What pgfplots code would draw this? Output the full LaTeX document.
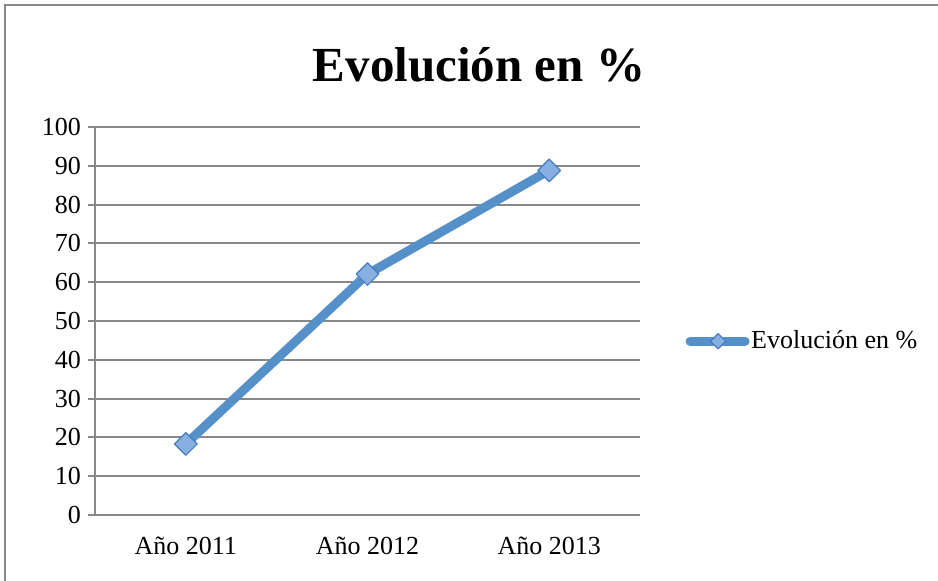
\documentclass[border=0pt]{standalone}
\usepackage{fontspec}
\setmainfont{Liberation Serif}
\usepackage{pgfplots}
\pgfplotsset{compat=1.18}
\definecolor{lineblue}{RGB}{85,145,200}
\definecolor{markfill}{RGB}{135,175,225}
\definecolor{markedge}{RGB}{70,125,190}
\definecolor{gridgray}{RGB}{136,136,136}
\begin{document}
\begin{tikzpicture}
\useasboundingbox (0,0) rectangle (469pt,290.5pt);
\draw[gridgray,line width=1pt] (2.5pt,0) -- (2.5pt,288pt) -- (469pt,288pt);
\node[font=\fontsize{24.5}{30}\selectfont\bfseries, anchor=base, inner sep=0pt] at (239.5pt,249.5pt) {Evolución en \%};
\begin{axis}[
  at={(47.5pt,33pt)}, anchor=south west,
  width=272.5pt, height=194pt, scale only axis,
  xmin=0.5, xmax=3.5, ymin=0, ymax=100,
  ytick={0,10,...,100},
  xtick={1,2,3}, xticklabels={Año 2011,Año 2012,Año 2013},
  x tick style={draw=none},
  extra x ticks={0.5,1.5,2.5,3.5}, extra x tick labels={},
  extra x tick style={grid=none, tick style={draw=gridgray,line width=1pt}, major tick length=4pt},
  axis x line*=bottom, axis y line*=left,
  tick align=outside, major tick length=3.5pt,
  y tick style={gridgray,line width=1pt},
  ymajorgrids, grid style={gridgray,line width=1pt},
  axis line style={gridgray,line width=1.3pt},
  ticklabel style={font=\fontsize{13}{15}\selectfont},
  /pgf/number format/assume math mode=true,
  xticklabel style={yshift=-4pt},
  yticklabel style={xshift=0pt},
  legend style={draw=none, fill=none, at={(1.083,0.448)}, anchor=west, inner sep=0pt,
    font=\fontsize{13}{15}\selectfont, nodes={inner sep=0.8pt}},
  legend image code/.code={
    \draw[#1,mark=none] (0pt,0pt) -- (27.5pt,0pt);
    \draw[#1,mark size=2.7pt] plot coordinates {(14pt,0pt)};
  },
]
\addplot[lineblue, line width=4.5pt, line cap=round, line join=round,
  mark=square*, mark size=4pt,
  mark options={rotate=45, fill=markfill, draw=markedge, line width=0.6pt}]
  coordinates {(1,18.3) (2,62.1) (3,88.8)};
\addlegendentry{Evolución en \%}
\end{axis}
\end{tikzpicture}
\end{document}
